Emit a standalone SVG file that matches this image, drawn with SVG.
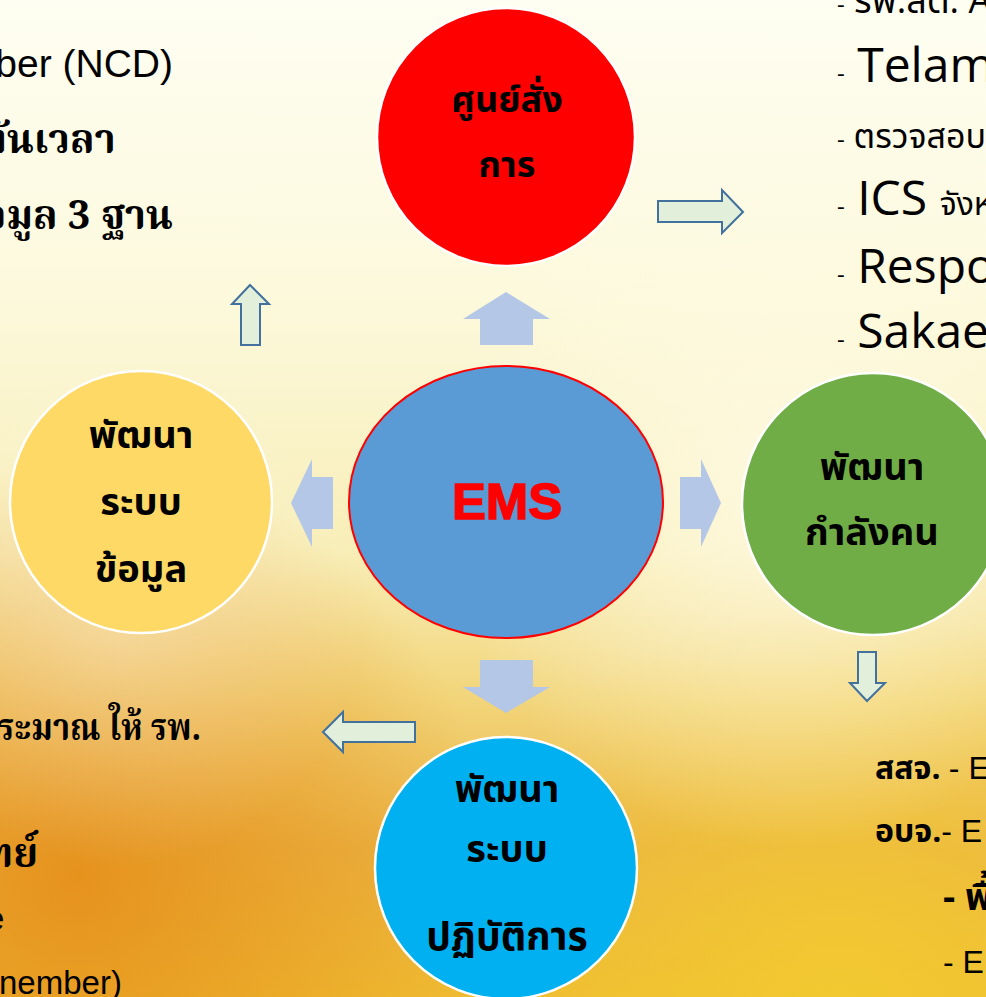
<svg xmlns="http://www.w3.org/2000/svg" width="986" height="997" viewBox="0 0 986 997">
<defs>
<linearGradient id="bg" x1="0" y1="0" x2="0" y2="1">
<stop offset="0" stop-color="#fefef2"/>
<stop offset="0.3" stop-color="#fcf9dc"/>
<stop offset="0.55" stop-color="#f8eeb8"/>
<stop offset="0.7" stop-color="#f2d57a"/>
<stop offset="0.85" stop-color="#ebb444"/>
<stop offset="1" stop-color="#efbc32"/>
</linearGradient>
<radialGradient id="orange" cx="0.08" cy="0.88" r="0.42">
<stop offset="0" stop-color="#e58f1a" stop-opacity="0.9"/>
<stop offset="1" stop-color="#e58f1a" stop-opacity="0"/>
</radialGradient>
<radialGradient id="gold" cx="0.85" cy="1" r="0.4">
<stop offset="0" stop-color="#f3cc30" stop-opacity="0.8"/>
<stop offset="1" stop-color="#f3cc30" stop-opacity="0"/>
</radialGradient>
<radialGradient id="glow" cx="0.8" cy="0.5" r="0.35">
<stop offset="0" stop-color="#fffbe6" stop-opacity="0.8"/>
<stop offset="1" stop-color="#fffbe6" stop-opacity="0"/>
</radialGradient>
<radialGradient id="glow2" cx="0.12" cy="0.62" r="0.25">
<stop offset="0" stop-color="#fdf6dc" stop-opacity="0.45"/>
<stop offset="1" stop-color="#fdf6dc" stop-opacity="0"/>
</radialGradient>
</defs>
<style>
.node{stroke:#ffffff;stroke-width:2.5}
.th{font-family:"Noto Sans Thai","Noto Sans Thai Looped","Tlwg Typist","Loma","Garuda","Noto Sans",sans-serif;font-weight:bold;fill:#000;text-anchor:middle}
.ths{font-family:"Noto Sans Thai","Noto Sans Thai Looped","Loma","Garuda","Noto Sans",sans-serif;font-weight:bold;fill:#000}
.blk{fill:#b4c7e7}
.out{fill:#e2efda;stroke:#41719c;stroke-width:2}
.lat{font-family:"Liberation Sans",Arial,sans-serif;fill:#000}
.thb{font-family:"Noto Serif Thai","Noto Sans Thai","Tlwg Typist","Loma",serif;font-weight:bold;fill:#000}
.cal{font-family:"Open Sans","Noto Sans Thai","Loma",sans-serif;fill:#000}
</style>
<rect width="986" height="997" fill="url(#bg)"/>
<rect width="986" height="997" fill="url(#orange)"/>
<rect width="986" height="997" fill="url(#gold)"/>
<rect width="986" height="997" fill="url(#glow)"/>
<rect width="986" height="997" fill="url(#glow2)"/>

<g id="left-notes">
<text class="lat" x="173" y="77" font-size="39" text-anchor="end">ber (NCD)</text>
<text class="thb" x="-20" y="153" font-size="40">ทันเวลา</text>
<text class="thb" x="-42" y="229" font-size="40">ข้อมูล 3 ฐาน</text>
<text class="thb" x="-2" y="740" font-size="38" textLength="203" lengthAdjust="spacingAndGlyphs">ระมาณ ให้ รพ.</text>
<text class="thb" x="-71" y="867" font-size="40">แพทย์</text>
<text class="lat" x="-14" y="930" font-size="33">e</text>
<text class="lat" x="-1" y="994" font-size="33">nember)</text>
</g>

<g id="right-notes">
<text class="cal" x="837" y="13" font-size="36"><tspan font-size="24">-</tspan> รพ.สต. A</text>
<text class="cal" x="837" y="82" font-size="48"><tspan font-size="24">-</tspan> Telam</text>
<text class="cal" x="837" y="148" font-size="34"><tspan font-size="24">-</tspan> ตรวจสอบ</text>
<text class="cal" x="837" y="215" font-size="48"><tspan font-size="24">-</tspan> ICS <tspan font-size="32">จังหวัด</tspan></text>
<text class="cal" x="837" y="283" font-size="48"><tspan font-size="24">-</tspan> Respo</text>
<text class="cal" x="837" y="348" font-size="48"><tspan font-size="24">-</tspan> Sakae</text>
<text class="ths" x="875" y="779" font-size="32">สสจ. <tspan class="lat" font-weight="normal">- E</tspan></text>
<text class="ths" x="875" y="842" font-size="32">อบจ.<tspan class="lat" font-weight="normal">- E</tspan></text>
<text class="ths" x="943" y="910" font-size="38">- พื้</text>
<text class="lat" x="943" y="973" font-size="32">- E</text>
</g>

<g id="node-command">
<circle class="node" cx="506" cy="137" r="129" fill="#ff0000"/>
<text class="th" x="507" y="112" font-size="36">ศูนย์สั่ง</text>
<text class="th" x="507" y="177" font-size="36">การ</text>
</g>

<g id="node-ems">
<ellipse cx="506" cy="502" rx="157" ry="136" fill="#5b9bd5" stroke="#ff0000" stroke-width="2"/>
<text x="507" y="519" font-family="'Liberation Sans',Arial,sans-serif" font-weight="900" font-size="50" fill="#ff0000" stroke="#ff0000" stroke-width="1.5" text-anchor="middle" textLength="110" lengthAdjust="spacingAndGlyphs">EMS</text>
</g>

<g id="node-data">
<circle class="node" cx="141" cy="502" r="131" fill="#ffd966"/>
<text class="th" x="141" y="448" font-size="38">พัฒนา</text>
<text class="th" x="141" y="515" font-size="38">ระบบ</text>
<text class="th" x="141" y="582" font-size="38">ข้อมูล</text>
</g>

<g id="node-manpower">
<circle class="node" cx="873" cy="504" r="131" fill="#70ad47"/>
<text class="th" x="872" y="480" font-size="38">พัฒนา</text>
<text class="th" x="872" y="545" font-size="38">กำลังคน</text>
</g>

<g id="node-operations">
<circle class="node" cx="506" cy="868" r="131" fill="#00b0f0"/>
<text class="th" x="507" y="802" font-size="38">พัฒนา</text>
<text class="th" x="507" y="862" font-size="38">ระบบ</text>
<text class="th" x="507" y="950" font-size="39">ปฏิบัติการ</text>
</g>

<g id="connectors">
<polygon class="blk" points="506,292 550,319 533,319 533,345 480,345 480,319 463,319"/>
<polygon class="blk" points="506,713 550,687 533,687 533,660 480,660 480,687 463,687"/>
<polygon class="blk" points="291,503 312,459 312,477 333,477 333,529 312,529 312,547"/>
<polygon class="blk" points="721,503 701,459 701,477 680,477 680,529 701,529 701,547"/>
<polygon class="out" points="743,212 722,190 722,201 658,201 658,222 722,222 722,233"/>
<polygon class="out" points="250,285 269,304 260,304 260,345 241,345 241,304 232,304"/>
<polygon class="out" points="323,732 343,712 343,722 415,722 415,742 343,742 343,752"/>
<polygon class="out" points="867,701 885,683 876,683 876,652 858,652 858,683 850,683"/>
</g>
</svg>
